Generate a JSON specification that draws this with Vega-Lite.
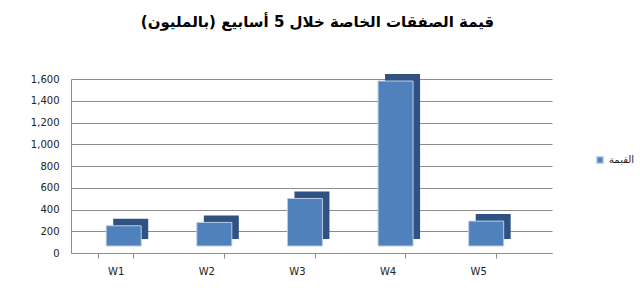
{
  "$schema": "https://vega.github.io/schema/vega-lite/v6.json",
  "autosize": {"type": "none"},
  "padding": {"left": 71, "top": 79, "right": 88, "bottom": 35},
  "width": 481,
  "height": 174,
  "background": "white",
  "title": {
    "text": "قيمة الصفقات الخاصة خلال 5 أسابيع (بالمليون)",
    "font": "DejaVu Sans",
    "fontSize": 15,
    "fontWeight": "bold",
    "color": "#000000",
    "anchor": "middle",
    "dx": 6,
    "offset": 44
  },
  "data": {
    "values": [
      {"week": "W1", "value": 186, "series": "القيمة"},
      {"week": "W2", "value": 217, "series": "القيمة"},
      {"week": "W3", "value": 437, "series": "القيمة"},
      {"week": "W4", "value": 1517, "series": "القيمة"},
      {"week": "W5", "value": 229, "series": "القيمة"}
    ]
  },
  "encoding": {
    "x": {
      "field": "week",
      "type": "nominal",
      "sort": null,
      "scale": {"paddingInner": 0.61, "paddingOuter": 0.459, "align": 0.325},
      "axis": {
        "title": null,
        "labelAngle": 0,
        "labelFont": "DejaVu Sans",
        "labelFontSize": 10,
        "labelColor": "#222222",
        "labelPadding": 8,
        "domainColor": "#8c8c8c",
        "tickColor": "#8c8c8c",
        "tickBand": "extent",
        "tickSize": 5
      }
    },
    "y": {
      "field": "value",
      "type": "quantitative",
      "scale": {"domain": [0, 1600]},
      "axis": {
        "title": null,
        "values": [0, 200, 400, 600, 800, 1000, 1200, 1400, 1600],
        "format": ",.0f",
        "labelFont": "DejaVu Sans",
        "labelFontSize": 10,
        "labelColor": "#222222",
        "labelPadding": 12,
        "domainColor": "#8c8c8c",
        "tickSize": 0,
        "gridColor": "#8c8c8c",
        "gridWidth": 1
      }
    }
  },
  "layer": [
    {
      "mark": {"type": "bar", "size": 35, "color": "#2f5282", "xOffset": 15, "yOffset": -14},
      "encoding": {}
    },
    {
      "mark": {"type": "bar", "size": 35, "stroke": "#b9cde5", "strokeWidth": 1, "xOffset": 8, "yOffset": -7},
      "encoding": {
        "color": {
          "field": "series",
          "type": "nominal",
          "scale": {"range": ["#4f81bd"]},
          "legend": {
            "title": null,
            "orient": "none",
            "legendX": 524,
            "legendY": 76,
            "symbolType": "square",
            "symbolSize": 40,
            "labelFont": "DejaVu Sans",
            "labelFontSize": 10,
            "labelColor": "#222222"
          }
        }
      }
    }
  ],
  "config": {"view": {"stroke": null}}
}
